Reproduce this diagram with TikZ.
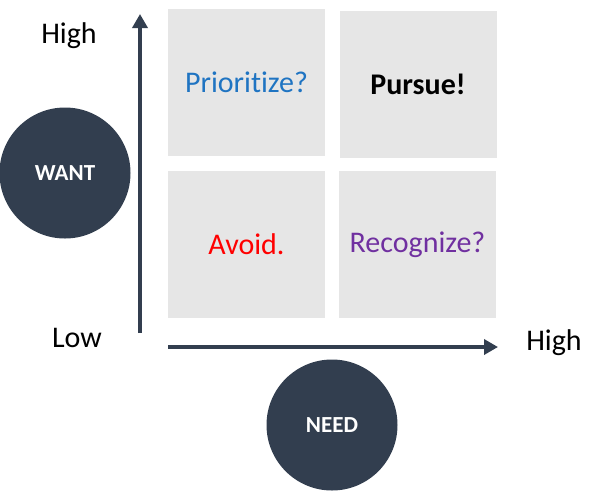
\documentclass[tikz,border=0pt]{standalone}
\usepackage{fontspec}
\setmainfont[Ligatures=NoCommon]{Carlito}
\usetikzlibrary{arrows.meta}
\definecolor{slate}{HTML}{323E4F}
\definecolor{boxgray}{HTML}{E6E6E6}
\definecolor{pblue}{HTML}{1F74C2}
\definecolor{ppurple}{HTML}{7030A0}
\definecolor{pred}{HTML}{FF0000}
\begin{document}
\begin{tikzpicture}[x=1pt,y=-1pt,
  quad/.style={fill=boxgray,draw=none,minimum width=157pt,minimum height=147pt,inner sep=0pt,font=\fontsize{30}{34}\selectfont},
  badge/.style={circle,fill=slate,minimum size=131pt,inner sep=0pt,text=white,font=\bfseries\fontsize{23}{26}\selectfont},
  axislabel/.style={font=\fontsize{30}{34}\selectfont,inner sep=0pt},
  axis/.style={slate,line width=4pt,-{Triangle[width=15pt,length=14pt]}}]
\useasboundingbox (0,0) rectangle (602,491);
\node[quad,text=pblue] (tl) at (246.5,82) {Prioritize?};
\node[quad,font=\bfseries\fontsize{30}{34}\selectfont] (tr) at (418,84.5) {Pursue!};
\node[quad,text=pred] (bl) at (246.5,244) {Avoid.};
\node[quad,text=ppurple] (br) at (417.5,244.5) {Recognize?};
\node[badge] (want) at (65,173) {WANT};
\node[badge] (need) at (332,425) {NEED};
\coordinate (vb) at (140,333);
\coordinate (vt) at (140,14);
\coordinate (hl) at (168,347);
\coordinate (hr) at (498,347);
\draw[axis] (vb) -- (vt);
\draw[axis] (hl) -- (hr);
\node[axislabel] (hightop) at (69,36) {High};
\node[axislabel] (low) at (77,338) {Low};
\node[axislabel] (highright) at (554,343) {High};
\end{tikzpicture}
\end{document}
